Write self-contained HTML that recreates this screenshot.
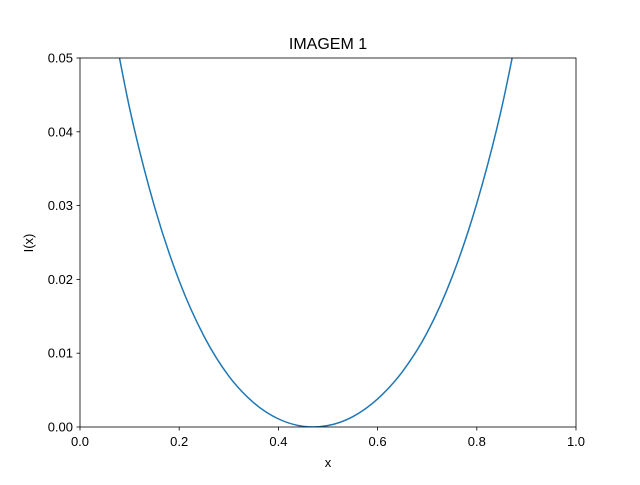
<!DOCTYPE html>
<html><head><meta charset="utf-8"><style>
body{margin:0;background:#fff}
svg{font-family:"Liberation Sans","DejaVu Sans",sans-serif}
</style></head><body>
<svg id="chart" width="640" height="480">
<rect width="640" height="480" fill="#fff"/>
<text x="328" y="49" text-anchor="middle" font-size="16">IMAGEM 1</text>
<defs><clipPath id="clip"><rect x="80" y="58" width="496" height="369"/></clipPath></defs>
<g id="ticks"></g>
<path id="curve" fill="none" stroke="#1f77b4" stroke-width="1.5" clip-path="url(#clip)"/>
<rect x="80" y="58" width="496" height="369" fill="none" stroke="#000" stroke-width="0.8"/>
<text x="328" y="467" text-anchor="middle" font-size="13">x</text>
<text x="33" y="243" text-anchor="middle" font-size="13" transform="rotate(-90 33 243)">I(x)</text>
</svg>
<script>
const xVals=[0.05,0.1,0.15,0.2,0.25,0.3,0.35,0.4,0.45,0.5,0.55,0.6,0.65,0.7,0.75,0.8,0.85,0.9];
const yVals=[0.0606,0.0432,0.0299,0.0198,0.0123,0.0069,0.0033,0.0011,0.00009,0.0002,0.0014,0.0038,0.0075,0.0128,0.0203,0.0303,0.0432,0.0598];
const xTicks=[0,0.2,0.4,0.6,0.8,1.0];
const yTicks=[0,0.01,0.02,0.03,0.04,0.05];
const X=v=>80+v/1.0*496, Y=v=>427-v/0.05*369;
const ns="http://www.w3.org/2000/svg";
const g=document.getElementById('ticks');
xTicks.forEach(t=>{
  const l=document.createElementNS(ns,'line');
  
  
  l.setAttribute('x1',X(t));l.setAttribute('x2',X(t));l.setAttribute('y1',427);l.setAttribute('y2',430.5);l.setAttribute('stroke','#000');l.setAttribute('stroke-width','0.8');g.appendChild(l);
  const tx=document.createElementNS(ns,'text');
  
  
  tx.setAttribute('x',X(t));tx.setAttribute('y',446);tx.setAttribute('text-anchor','middle');tx.setAttribute('font-size','13');tx.textContent=t.toFixed(1);g.appendChild(tx);
});
yTicks.forEach(t=>{
  const l=document.createElementNS(ns,'line');
  
  
  l.setAttribute('x1',76.5);l.setAttribute('x2',80);l.setAttribute('y1',Y(t));l.setAttribute('y2',Y(t));l.setAttribute('stroke','#000');l.setAttribute('stroke-width','0.8');g.appendChild(l);
  const tx=document.createElementNS(ns,'text');
  
  
  tx.setAttribute('x',73);tx.setAttribute('y',Y(t)+4.5);tx.setAttribute('text-anchor','end');tx.setAttribute('font-size','13');tx.textContent=t.toFixed(2);g.appendChild(tx);
});
const P=xVals.map((x,i)=>[X(x),Y(yVals[i])]);
let d='M'+P[0][0]+','+P[0][1];
for(let i=0;i<P.length-1;i++){
  const p0=P[Math.max(0,i-1)],p1=P[i],p2=P[i+1],p3=P[Math.min(P.length-1,i+2)];
  const c1=[p1[0]+(p2[0]-p0[0])/6,p1[1]+(p2[1]-p0[1])/6];
  const c2=[p2[0]-(p3[0]-p1[0])/6,p2[1]-(p3[1]-p1[1])/6];
  d+=`C${c1[0]},${c1[1]} ${c2[0]},${c2[1]} ${p2[0]},${p2[1]}`;
}
document.getElementById('curve').setAttribute('d',d);
</script>
</body></html>
